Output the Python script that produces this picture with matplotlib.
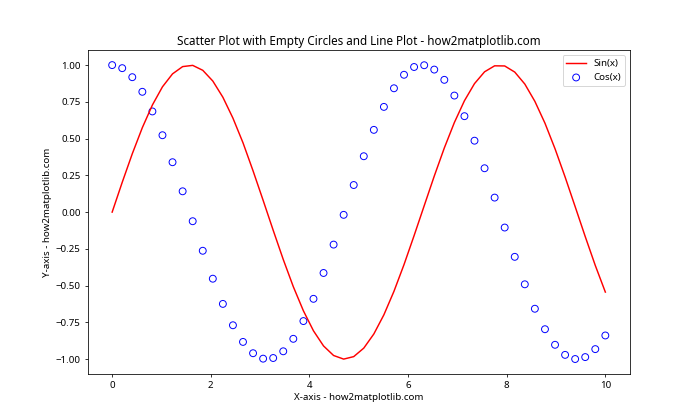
import matplotlib
matplotlib.use("Agg")
import matplotlib.pyplot as plt

plt.rcParams['font.family'] = ['Noto Sans', 'DejaVu Sans']

x = [0.0, 0.204, 0.408, 0.612, 0.816, 1.020, 1.224, 1.429, 1.633, 1.837,
     2.041, 2.245, 2.449, 2.653, 2.857, 3.061, 3.265, 3.469, 3.673, 3.878,
     4.082, 4.286, 4.490, 4.694, 4.898, 5.102, 5.306, 5.510, 5.714, 5.918,
     6.122, 6.327, 6.531, 6.735, 6.939, 7.143, 7.347, 7.551, 7.755, 7.959,
     8.163, 8.367, 8.571, 8.776, 8.980, 9.184, 9.388, 9.592, 9.796, 10.0]

sin_y = [0.0, 0.2027, 0.3969, 0.5747, 0.7287, 0.8523, 0.9404, 0.9898, 0.9981, 0.9647,
         0.8915, 0.7814, 0.6392, 0.4715, 0.2806, 0.0803, -0.1234, -0.3220, -0.5072, -0.6715,
         -0.8075, -0.9103, -0.9753, -0.9998, -0.9829, -0.9251, -0.8288, -0.6983, -0.5386, -0.3567,
         -0.1600, 0.0434, 0.2450, 0.4364, 0.6096, 0.7576, 0.8741, 0.9544, 0.9951, 0.9942,
         0.9526, 0.8712, 0.7535, 0.6047, 0.4307, 0.2389, 0.0371, -0.1662, -0.3627, -0.5440]

cos_y = [1.0, 0.9792, 0.9178, 0.8184, 0.6848, 0.5230, 0.3394, 0.1416, -0.0619, -0.2629,
         -0.4529, -0.6243, -0.7696, -0.8829, -0.9598, -0.9968, -0.9924, -0.9467, -0.8618, -0.7411,
         -0.5898, -0.4140, -0.2209, -0.0185, 0.1843, 0.3801, 0.5595, 0.7158, 0.8424, 0.9342,
         0.9871, 0.9991, 0.9695, 0.8998, 0.7928, 0.6526, 0.4858, 0.2984, 0.0988, -0.1049,
         -0.3042, -0.4910, -0.6573, -0.7965, -0.9025, -0.9710, -0.9993, -0.9861, -0.9319, -0.8391]

fig, ax = plt.subplots(figsize=(10, 6), dpi=70)
ax.plot(x, sin_y, color='red', label='Sin(x)')
ax.scatter(x, cos_y, s=50, facecolors='none', edgecolors='blue', label='Cos(x)')
ax.set_title('Scatter Plot with Empty Circles and Line Plot - how2matplotlib.com')
ax.set_xlabel('X-axis - how2matplotlib.com')
ax.set_ylabel('Y-axis - how2matplotlib.com')
ax.legend()
fig.savefig('out.png', dpi=70)
